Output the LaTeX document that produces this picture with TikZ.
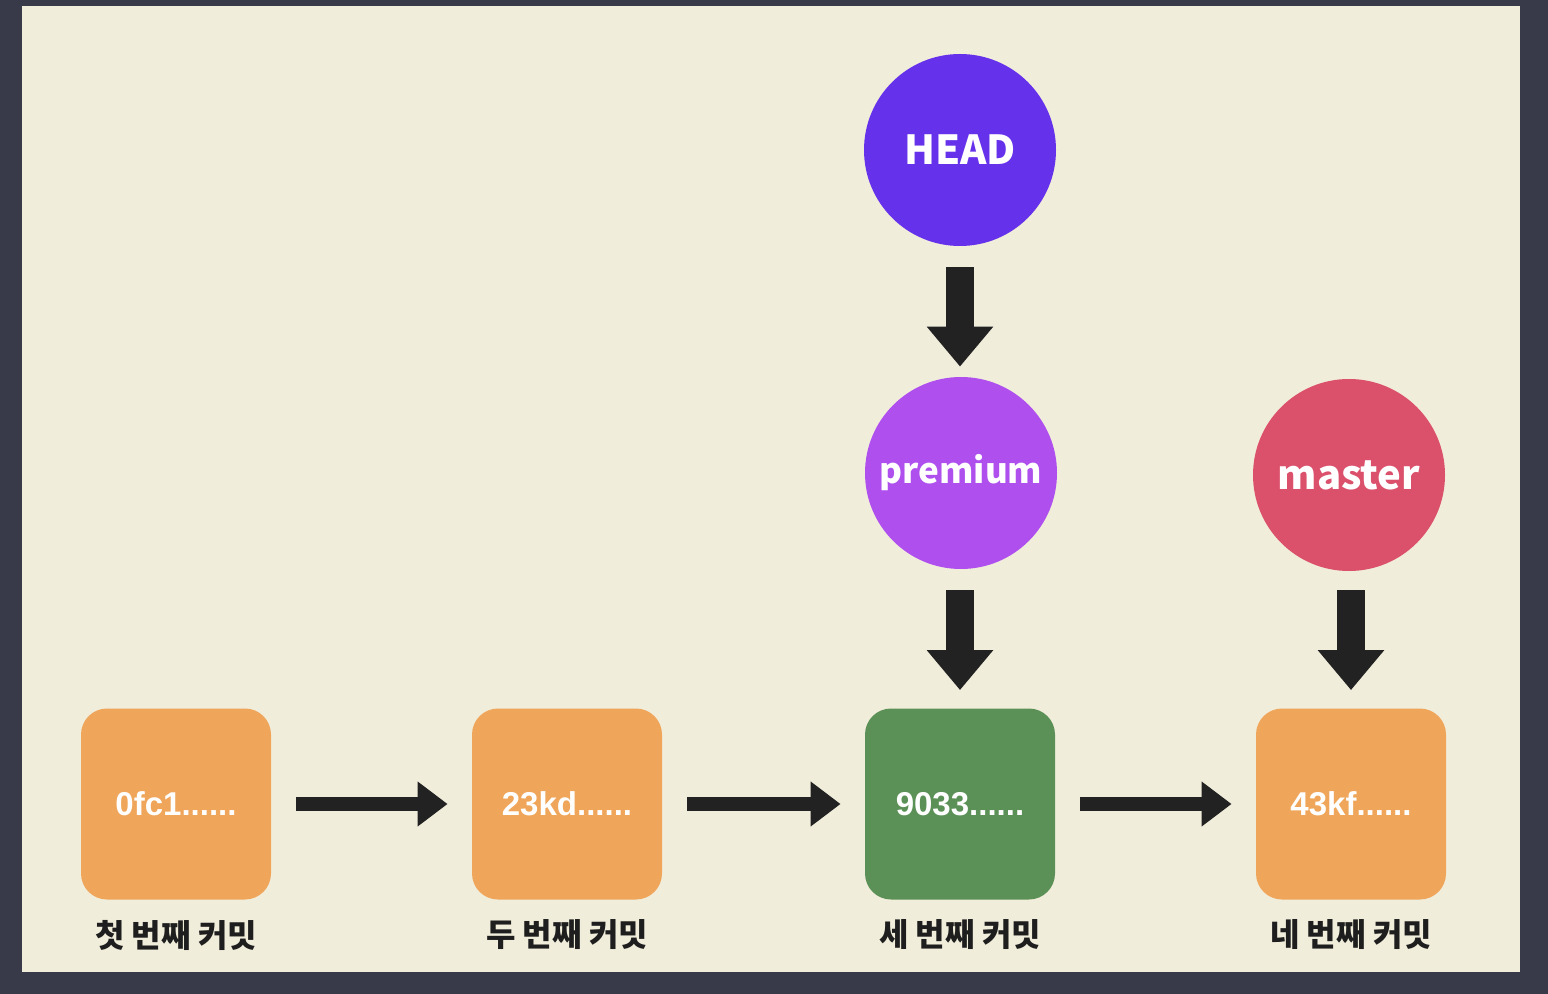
\documentclass[tikz,border=0pt]{standalone}
\usepackage{fontspec}
\setmainfont{Liberation Sans}
\newfontfamily\kr{Noto Sans CJK KR}
\usetikzlibrary{arrows.meta}
\definecolor{framebg}{HTML}{383A4A}
\definecolor{cream}{HTML}{F1EDDB}
\definecolor{orangebox}{HTML}{F0A65A}
\definecolor{greenbox}{HTML}{5B9156}
\definecolor{headc}{HTML}{6631EB}
\definecolor{premc}{HTML}{AE4FEE}
\definecolor{masterc}{HTML}{DB516C}
\definecolor{arrowc}{HTML}{222222}
\definecolor{labelc}{HTML}{1E1E1E}
\tikzset{
  commit/.style={rounded corners=13pt, minimum width=95pt, minimum height=95.5pt, inner sep=0pt,
    text=white, font=\fontsize{16.5}{19}\selectfont\bfseries},
  branch/.style={circle, minimum size=96pt, inner sep=0pt, text=white,
    font=\kr\fontsize{20}{24}\selectfont\bfseries},
  caption/.style={text=labelc, font=\kr\fontsize{16}{19}\selectfont\bfseries, inner sep=0pt},
  harrow/.style={draw=arrowc, line width=7pt, -{Triangle[length=15pt, width=21.5pt]},
    shorten <=12.5pt, shorten >=12pt},
  varrow/.style={draw=arrowc, line width=14pt, -{Triangle[length=20pt, width=32pt]}},
}
\begin{document}
\begin{tikzpicture}[x=0.5pt,y=-0.5pt]
\useasboundingbox (0,0) rectangle (1548,994);
\fill[framebg] (0,0) rectangle (1548,994);
\fill[cream] (22,6) rectangle (1520,972);

\node[commit, fill=orangebox] (c1) at (176,804) {0fc1......};
\node[commit, fill=orangebox] (c2) at (567,804) {23kd......};
\node[commit, fill=greenbox]  (c3) at (960,804) {9033......};
\node[commit, fill=orangebox] (c4) at (1351,804) {43kf......};

\node[caption] (l1) at (176,935) {첫 번째 커밋};
\node[caption] (l2) at (567,935) {두 번째 커밋};
\node[caption] (l3) at (960,935) {세 번째 커밋};
\node[caption] (l4) at (1351,935) {네 번째 커밋};

\node[branch, fill=headc] (head) at (960,150) {HEAD};
\node[branch, fill=premc, font=\kr\fontsize{17.5}{21}\selectfont\bfseries] (prem) at (961,473) {premium};
\node[branch, fill=masterc] (mast) at (1349,475) {master};

\draw[harrow] (c1) -- (c2);
\draw[harrow] (c2) -- (c3);
\draw[harrow] (c3) -- (c4);

\draw[varrow, shorten <=10.5pt, shorten >=5pt] (head) -- (prem.north -| head.south);
\draw[varrow, shorten <=10.5pt, shorten >=9pt] (prem.south -| c3.north) -- (c3);
\draw[varrow, shorten <=9.5pt, shorten >=9pt] (mast.south -| c4.north) -- (c4);
\end{tikzpicture}
\end{document}
